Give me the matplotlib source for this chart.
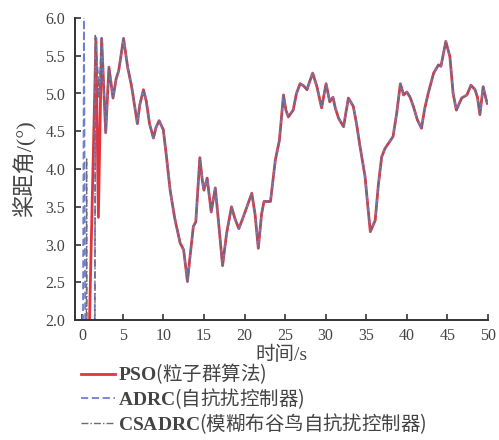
import numpy as np
import matplotlib
matplotlib.use('Agg')
import matplotlib.pyplot as plt

plt.rcParams['font.family'] = ['Liberation Serif', 'Noto Sans CJK SC']
plt.rcParams['mathtext.fontset'] = 'custom'
plt.rcParams['mathtext.bf'] = 'Liberation Serif:bold'
plt.rcParams['mathtext.rm'] = 'Liberation Serif'

# ── Dados ─────────────────────────────────────────────────────────────────────
# trecho comum às três curvas (t >= 2.4 s)
t_main = [2.4, 2.9, 3.3, 3.8, 4.2, 4.5, 5.1, 5.6, 6.1, 6.8, 7.1, 7.55, 7.9, 8.3,
          8.78, 9.1, 9.48, 10.0, 10.4, 10.84, 11.4, 12.07, 12.5, 12.97, 13.3,
          13.7, 14.0, 14.5, 14.8, 15.0, 15.4, 15.9, 16.4, 16.8, 17.3, 17.8, 18.4,
          18.8, 19.3, 19.8, 20.3, 20.9, 21.3, 21.7, 22.1, 22.4, 23.2, 23.8, 24.3,
          24.8, 25.1, 25.4, 26.0, 26.4, 26.85, 27.3, 27.7, 28.0, 28.4, 28.9, 29.5,
          30.05, 30.5, 30.9, 31.2, 31.6, 32.2, 32.8, 33.4, 33.8, 34.2, 34.85,
          35.2, 35.5, 36.1, 36.5, 36.9, 37.3, 37.8, 38.3, 38.75, 39.2, 39.6, 40.0,
          40.4, 40.8, 41.3, 41.8, 42.2, 42.65, 43.3, 43.9, 44.2, 44.8, 45.3, 45.7,
          46.1, 46.75, 47.4, 47.9, 48.4, 48.7, 49.0, 49.4, 49.7, 49.9]
y_main = [5.73, 4.48, 5.35, 4.94, 5.20, 5.30, 5.73, 5.35, 5.09, 4.60, 4.85, 5.05,
          4.90, 4.60, 4.41, 4.55, 4.64, 4.52, 4.15, 3.72, 3.35, 3.02, 2.93, 2.51,
          2.85, 3.24, 3.30, 4.15, 3.85, 3.72, 3.88, 3.43, 3.75, 3.30, 2.72, 3.15,
          3.50, 3.35, 3.21, 3.35, 3.50, 3.68, 3.40, 2.95, 3.40, 3.57, 3.57, 4.12,
          4.38, 4.98, 4.78, 4.69, 4.78, 5.00, 5.13, 5.10, 5.05, 5.15, 5.27, 5.10,
          4.81, 5.13, 4.89, 4.95, 4.80, 4.67, 4.56, 4.94, 4.83, 4.60, 4.32, 3.90,
          3.50, 3.17, 3.32, 3.80, 4.16, 4.27, 4.35, 4.43, 4.74, 5.13, 4.98, 5.02,
          4.95, 4.83, 4.65, 4.54, 4.80, 5.01, 5.27, 5.38, 5.36, 5.69, 5.49, 5.00,
          4.78, 4.94, 4.98, 5.11, 5.05, 4.95, 4.72, 5.09, 4.95, 4.87]

# transitório inicial de cada método
pso_t0 = [0.0, 0.8, 1.7, 2.0]
pso_y0 = [0.0, 1.5, 5.73, 3.36]
adrc_t0 = [0.0, 0.05, 0.22, 0.45, 1.5, 1.65, 2.1]
adrc_y0 = [0.0, 0.0, 6.05, 0.0, 0.0, 5.75, 4.95]
csadrc_t0 = [0.0, 0.5, 0.55, 0.62, 1.55, 1.62, 2.1]
csadrc_y0 = [0.0, 0.0, 4.15, 0.0, 0.0, 5.77, 4.95]

names = ['PSO', 'ADRC', 'CSADRC']
names_cn = ['(粒子群算法)', '(自抗扰控制器)', '(模糊布谷鸟自抗扰控制器)']

t_pso = np.r_[pso_t0, t_main];       y_pso = np.r_[pso_y0, y_main]
t_adrc = np.r_[adrc_t0, t_main];     y_adrc = np.r_[adrc_y0, y_main]
t_cs = np.r_[csadrc_t0, t_main];     y_cs = np.r_[csadrc_y0, y_main]

# ── Figura ────────────────────────────────────────────────────────────────────
fig = plt.figure(figsize=(4.99, 4.40), dpi=100, facecolor='white')
ax = fig.add_axes([0.150, 0.2727, 0.828, 0.6864])

l1, = ax.plot(t_pso, y_pso, color='#e3343c', linewidth=2.0)
l2, = ax.plot(t_adrc, y_adrc, color='#6f7fcf', linewidth=1.3, linestyle=(0, (4, 2)))
l3, = ax.plot(t_cs, y_cs, color='#6e6a78', linewidth=1.0, linestyle=(0, (5, 1.5, 1, 1.5)))

ax.set_xlim(-0.9, 50)
ax.set_ylim(2.0, 6.0)
ax.set_xticks(np.arange(0, 51, 5))
ax.set_yticks(np.arange(2.0, 6.01, 0.5))
ax.yaxis.set_major_formatter(matplotlib.ticker.FormatStrFormatter('%.1f'))
for s in ['top', 'right']:
    ax.spines[s].set_visible(False)
for s in ['left', 'bottom']:
    ax.spines[s].set_color('#333333')
    ax.spines[s].set_linewidth(1.4)
ax.tick_params(direction='in', length=4, width=1.2, color='#333333',
               labelsize=11.5, labelcolor='#444444')
ax.tick_params(axis='x', pad=6)
ax.tick_params(axis='y', pad=7)

ax.set_xlabel('时间/s', fontsize=14, color='#444444', labelpad=1)
ax.set_ylabel('桨距角/(°)', fontsize=16, color='#444444', labelpad=6)

# rótulos: nome em negrito (mathtext) + descrição em chinês
labels = [r'$\mathbf{%s}$%s' % (a, b) for a, b in zip(names, names_cn)]
leg = fig.legend([l1, l2, l3], labels, loc='upper left',
                 bbox_to_anchor=(0.163, 0.178), frameon=False,
                 prop={'family': 'Noto Sans CJK SC', 'size': 14},
                 handlelength=1.75, handletextpad=0.15, labelspacing=0.0,
                 borderpad=0, borderaxespad=0)
for txt in leg.get_texts():
    txt.set_color('#444444')

plt.savefig('out.png', dpi=100, facecolor='white')
plt.close()
